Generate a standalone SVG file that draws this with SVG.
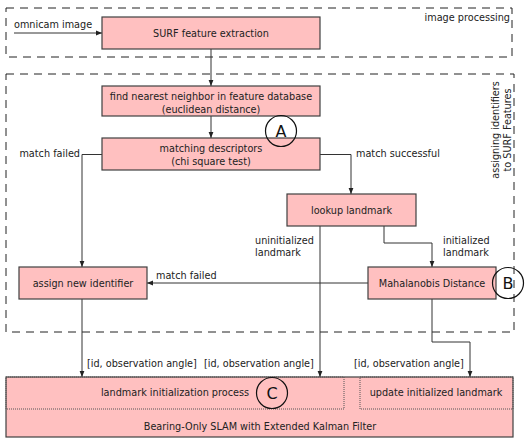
<svg xmlns="http://www.w3.org/2000/svg" width="525" height="439" viewBox="0 0 525 439">
<style>
text{font-family:"DejaVu Sans",Verdana,sans-serif;font-size:9.7px;fill:#222}
.c{text-anchor:middle}
.e{text-anchor:end}
.box{fill:#ffc0c0;stroke:#404040;stroke-width:1.2}
.dash{fill:none;stroke:#222;stroke-width:1;stroke-dasharray:8 6}
.dot{fill:none;stroke:#555;stroke-width:1;stroke-dasharray:1 1}
.ln{fill:none;stroke:#333;stroke-width:1}
.circ{fill:none;stroke:#111;stroke-width:1.2}
.big{font-size:16px;fill:#111}
</style>
<defs>
<marker id="ah" viewBox="0 0 10 10" refX="10" refY="5" markerWidth="6" markerHeight="6" markerUnits="userSpaceOnUse" orient="auto">
<path d="M0,1 L10,5 L0,9 z" fill="#222"/>
</marker>
</defs>

<g id="groups">
<rect class="dash" x="6" y="8" width="506" height="49"/>
<text x="510" y="21" class="e">image processing</text>
<rect class="dash" x="6" y="74" width="508" height="258"/>
<text class="c" transform="translate(499,130) rotate(-90)">assigning identifiers</text>
<text class="c" transform="translate(511,130) rotate(-90)">to SURF Features</text>
</g>

<g id="connectors">
<line class="ln" x1="14" y1="33" x2="102" y2="33" marker-end="url(#ah)"/>
<line class="ln" x1="211" y1="49" x2="211" y2="86" marker-end="url(#ah)"/>
<line class="ln" x1="211" y1="116" x2="211" y2="138" marker-end="url(#ah)"/>
<polyline class="ln" points="102,154.5 82,154.5 82,267" marker-end="url(#ah)"/>
<polyline class="ln" points="320,154.5 351,154.5 351,194" marker-end="url(#ah)"/>
<line class="ln" x1="320" y1="226" x2="320" y2="377" marker-end="url(#ah)"/>
<polyline class="ln" points="384,226 384,243 432,243 432,267" marker-end="url(#ah)"/>
<line class="ln" x1="368" y1="283" x2="147" y2="283" marker-end="url(#ah)"/>
<line class="ln" x1="82" y1="299" x2="82" y2="377" marker-end="url(#ah)"/>
<polyline class="ln" points="432,299 432,342 470,342 470,377" marker-end="url(#ah)"/>
<text x="14" y="28">omnicam image</text>
<text x="80" y="157" class="e">match failed</text>
<text x="356" y="157">match successful</text>
<text x="255" y="244">uninitialized</text>
<text x="255" y="256">landmark</text>
<text x="443" y="244">initialized</text>
<text x="443" y="256">landmark</text>
<text x="156" y="279">match failed</text>
<text x="87" y="367">[id, observation angle]</text>
<text x="204" y="367">[id, observation angle]</text>
<text x="354" y="367">[id, observation angle]</text>
</g>

<g id="surf">
<rect class="box" x="102" y="17" width="218" height="32"/>
<text x="211" y="36.5" class="c">SURF feature extraction</text>
</g>
<g id="nearest">
<rect class="box" x="102" y="86" width="218" height="30"/>
<text x="211" y="100" class="c">find nearest neighbor in feature database</text>
<text x="211" y="113" class="c">(euclidean distance)</text>
</g>
<g id="matching">
<rect class="box" x="102" y="138" width="218" height="32"/>
<text x="211" y="152" class="c">matching descriptors</text>
<text x="211" y="165" class="c">(chi square test)</text>
</g>
<g id="lookup">
<rect class="box" x="287" y="194" width="129" height="32"/>
<text x="351.5" y="213.5" class="c">lookup landmark</text>
</g>
<g id="assign">
<rect class="box" x="19" y="267" width="128" height="32"/>
<text x="83" y="286.5" class="c">assign new identifier</text>
</g>
<g id="mahalanobis">
<rect class="box" x="368" y="267" width="128" height="32"/>
<text x="432" y="286.5" class="c">Mahalanobis Distance</text>
</g>
<g id="slam">
<rect class="box" x="6" y="377" width="507" height="60"/>
<rect class="dot" x="6" y="377" width="338" height="32"/>
<rect class="dot" x="360" y="377" width="153" height="32"/>
<text x="175" y="396" class="c">landmark initialization process</text>
<text x="436" y="396" class="c">update initialized landmark</text>
<text x="260" y="430" class="c">Bearing-Only SLAM with Extended Kalman Filter</text>
</g>
<g id="labelA">
<circle class="circ" cx="281" cy="131" r="15.5"/>
<text x="281" y="137" class="c big">A</text>
</g>
<g id="labelB">
<circle class="circ" cx="508" cy="283" r="15.5"/>
<text x="508" y="289" class="c big">B</text>
</g>
<g id="labelC">
<circle class="circ" cx="272" cy="393" r="15.5"/>
<text x="272" y="399" class="c big">C</text>
</g>
</svg>
